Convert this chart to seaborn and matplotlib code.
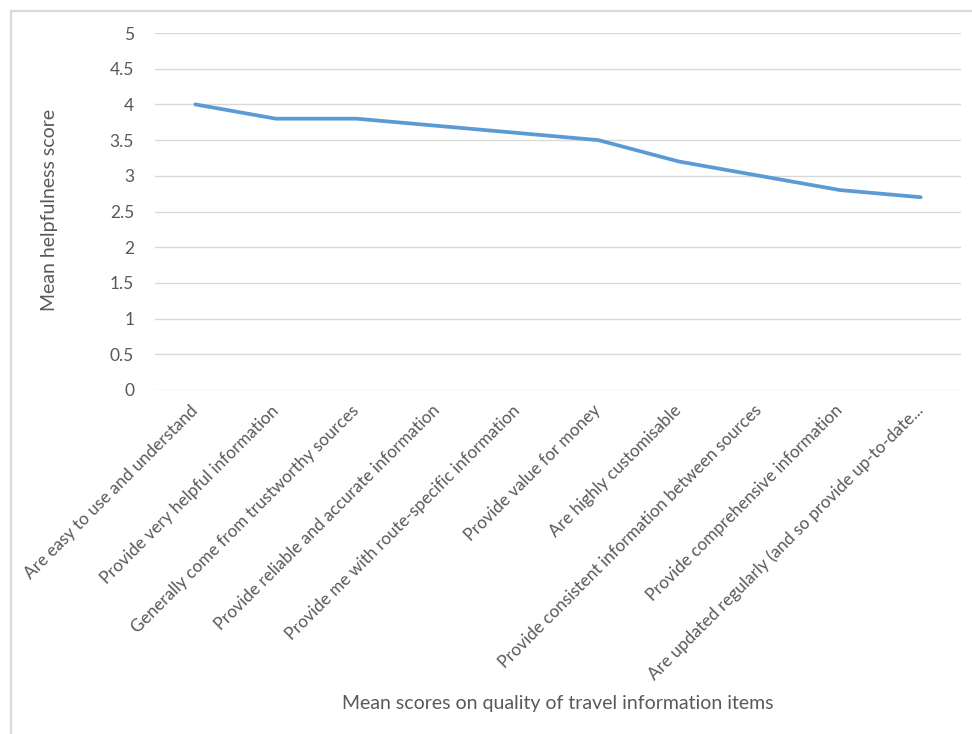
import matplotlib
matplotlib.use("Agg")
import matplotlib.pyplot as plt
from matplotlib.lines import Line2D
import seaborn as sns
import pandas as pd

# Quality statements and their mean helpfulness scores
categories = [
    "Are easy to use and understand",
    "Provide very helpful information",
    "Generally come from trustworthy sources",
    "Provide reliable and accurate information",
    "Provide me with route-specific information",
    "Provide value for money",
    "Are highly customisable",
    "Provide consistent information between sources",
    "Provide comprehensive information",
    "Are updated regularly (and so provide up-to-date...",
]
scores = [4.0, 3.8, 3.8, 3.7, 3.6, 3.5, 3.2, 3.0, 2.8, 2.7]
y_ticks = [0, 0.5, 1, 1.5, 2, 2.5, 3, 3.5, 4, 4.5, 5]
y_tick_labels = ["0", "0.5", "1", "1.5", "2", "2.5", "3", "3.5", "4", "4.5", "5"]

sns.set_theme(style="white")
plt.rcParams["font.family"] = ["Lato", "DejaVu Sans"]

text_col = "#595959"
grid_col = "#D9D9D9"

df = pd.DataFrame({"pos": range(len(categories)), "score": scores})

fig = plt.figure(figsize=(9.72, 7.34), dpi=100)
ax = fig.add_axes([155 / 972, 1 - 390 / 734, (961 - 155) / 972, (390 - 33) / 734])

sns.lineplot(data=df, x="pos", y="score", ax=ax, color="#5B9BD5",
             linewidth=2.7, sort=False, solid_capstyle="round", zorder=3)

ax.set_xlim(-0.5, len(categories) - 0.5)
ax.set_ylim(0, 5)
ax.set_yticks(y_ticks)
ax.set_yticklabels(y_tick_labels, fontsize=12.5, color=text_col)
ax.set_xticks(range(len(categories)))
ax.set_xticklabels(categories, rotation=45, ha="right", va="center",
                   rotation_mode="anchor", fontsize=12.3, color=text_col)
ax.tick_params(axis="x", length=0, pad=13)
ax.tick_params(axis="y", length=0, pad=15)

ax.yaxis.grid(True, color=grid_col, linewidth=1.0)
ax.xaxis.grid(False)
for s in ax.spines.values():
    s.set_visible(False)

ax.set_xlabel("")
ax.set_ylabel("")
fig.text(50 / 972, 1 - 210 / 734, "Mean helpfulness score", rotation=90,
         ha="center", va="center", fontsize=14, color=text_col)
fig.text(558 / 972, 1 - 703 / 734, "Mean scores on quality of travel information items",
         ha="center", va="center", fontsize=14, color=text_col)

# Chart frame (top and left edges)
fig.add_artist(Line2D([10.5 / 972, 1.0], [1 - 10.5 / 734, 1 - 10.5 / 734],
                      transform=fig.transFigure, color=grid_col, linewidth=1.6))
fig.add_artist(Line2D([10.5 / 972, 10.5 / 972], [0, 1 - 10.5 / 734],
                      transform=fig.transFigure, color=grid_col, linewidth=1.6))

fig.savefig("out.png", dpi=100, facecolor="white")
